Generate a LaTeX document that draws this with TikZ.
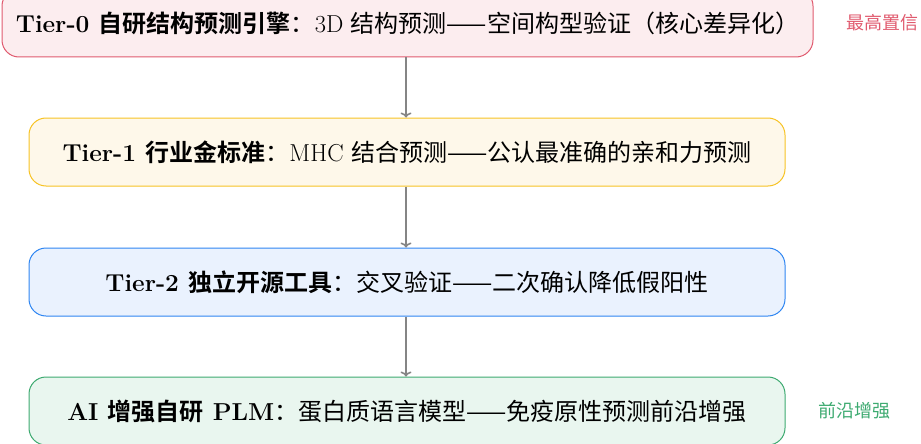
\documentclass[tikz,border=0pt]{standalone}
\usepackage{fontspec}
\usetikzlibrary{arrows.meta}
\newfontfamily\cjk[Scale=0.98,BoldFont={Noto Sans CJK SC Bold}]{Noto Sans CJK SC}
\newfontfamily\cjks{Noto Sans CJK SC}
\definecolor{rline}{HTML}{E05A6E}
\definecolor{rfill}{HTML}{FCEDEF}
\definecolor{yline}{HTML}{F7C325}
\definecolor{yfill}{HTML}{FEF8EA}
\definecolor{bline}{HTML}{2F86F2}
\definecolor{bfill}{HTML}{EAF2FE}
\definecolor{gline}{HTML}{3DAA70}
\definecolor{gfill}{HTML}{E9F6EF}
\definecolor{arr}{HTML}{858585}
\tikzset{
  tier/.style={draw, line width=1pt, rounded corners=17pt, minimum height=68pt,
    minimum width=756pt, align=center, inner sep=4pt, font=\fontsize{24.5}{28}\selectfont},
  conn/.style={draw=arr, line width=1.6pt, -{To[length=5pt,width=11pt]}},
  side/.style={font=\cjks\fontsize{18}{20}\selectfont, inner sep=0pt}
}
\begin{document}
\begin{tikzpicture}[x=1pt,y=-1pt]
\useasboundingbox (0,0) rectangle (921,444);
\node[tier, draw=rline, fill=rfill, minimum width=811pt] (t0) at (407.5,23)
  {\textbf{Tier-0 {\cjk 自研结构预测引擎}}{\cjk ：}3D {\cjk 结构预测——空间构型验证（核心差异化）}};
\node[tier, draw=yline, fill=yfill] (t1) at (407,152)
  {\textbf{Tier-1 {\cjk 行业金标准}}{\cjk ：}MHC {\cjk 结合预测——公认最准确的亲和力预测}};
\node[tier, draw=bline, fill=bfill] (t2) at (407,282)
  {\textbf{Tier-2 {\cjk 独立开源工具}}{\cjk ：}{\cjk 交叉验证——二次确认降低假阳性}};
\node[tier, draw=gline, fill=gfill] (t3) at (407,411)
  {\textbf{AI {\cjk 增强自研} PLM}{\cjk ：}{\cjk 蛋白质语言模型——免疫原性预测前沿增强}};
\node[side, text=rline] (l0) at (882,23) {最高置信};
\node[side, text=gline] (l3) at (854,411) {前沿增强};
\draw[conn] (t0.south -| 406,0) -- (t1.north -| 406,0);
\draw[conn] (t1.south -| 406,0) -- (t2.north -| 406,0);
\draw[conn] (t2.south -| 406,0) -- (t3.north -| 406,0);
\end{tikzpicture}
\end{document}
